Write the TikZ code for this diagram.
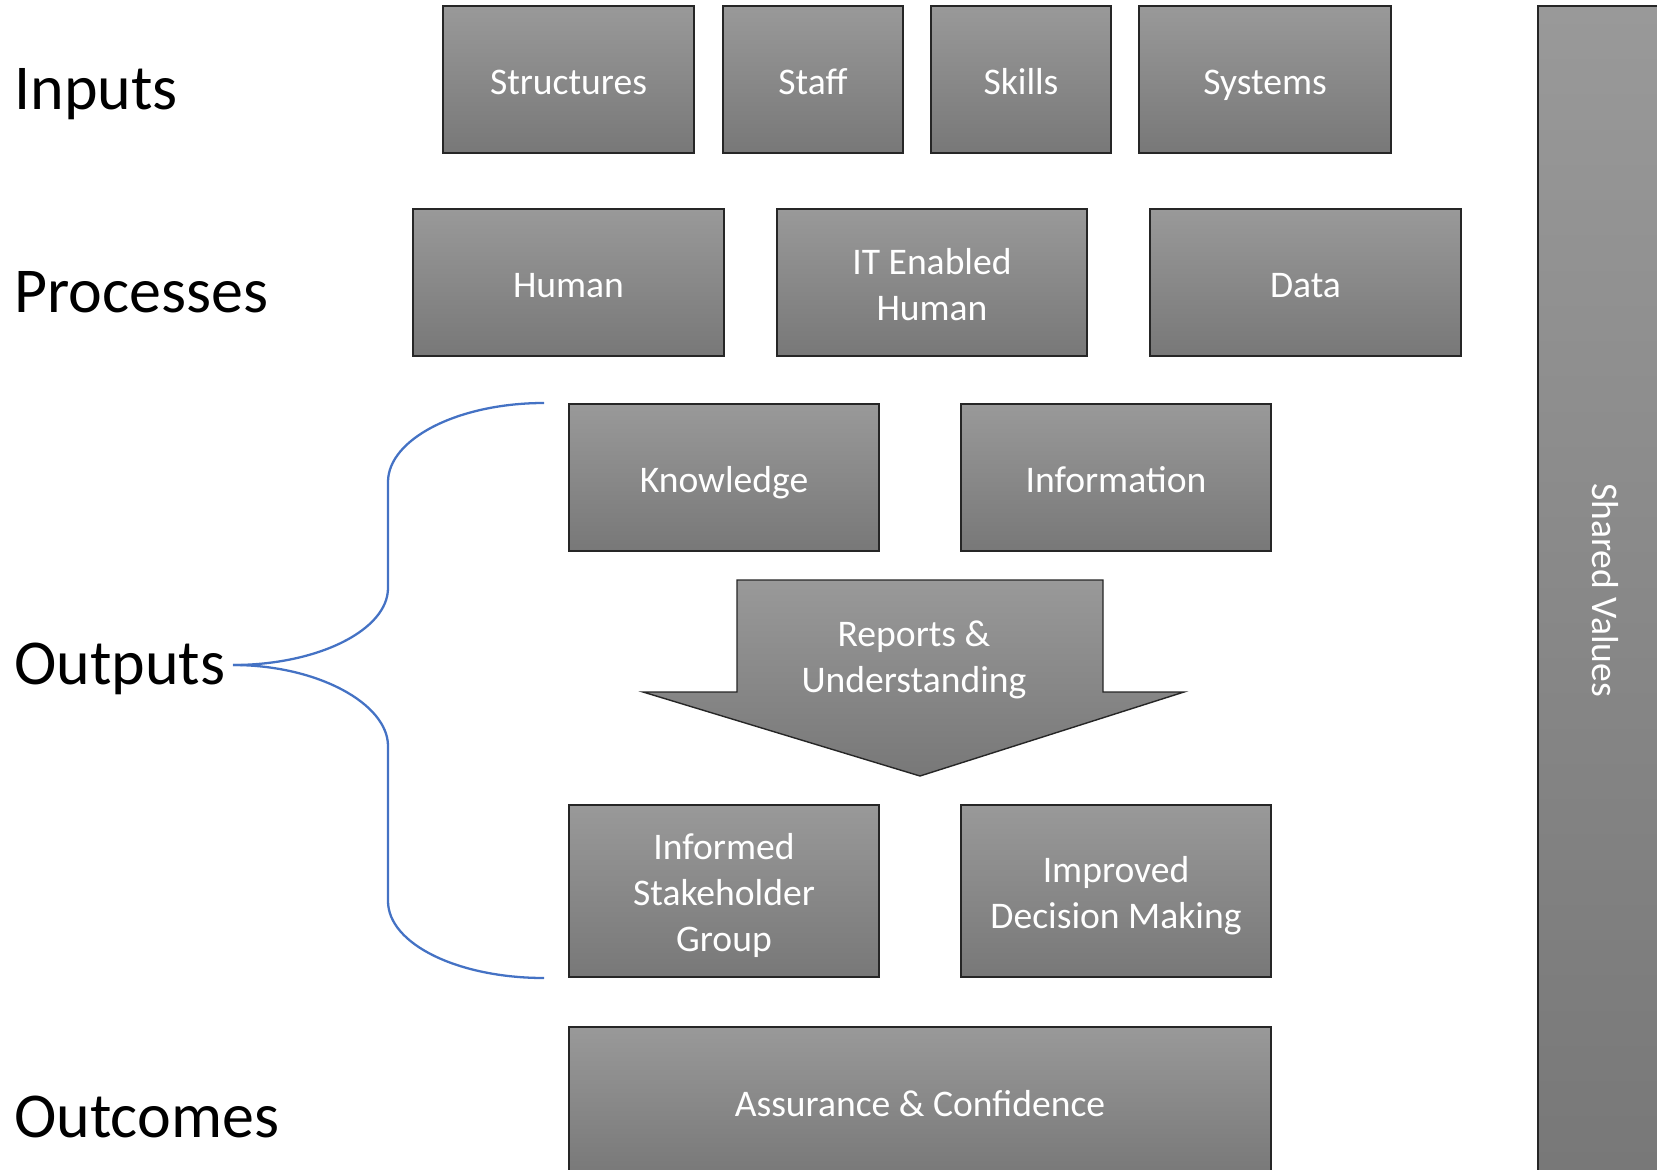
\documentclass[tikz,border=0pt]{standalone}
\usepackage{fontspec}
\setmainfont{Carlito}
\usetikzlibrary{positioning}

\definecolor{bracecol}{HTML}{4472C4}

% fixed line height so every label sits on the same baseline
\newcommand{\lnstrut}{\rule[-0.3em]{0pt}{1.38em}}

\begin{document}
\begin{tikzpicture}[x=0.02cm,y=-0.02cm]

    \tikzstyle{lbl} = [text=white, font=\fontsize{21.4}{26}\selectfont, align=center,
    execute at begin node=\lnstrut, execute at end node=\lnstrut]

    \tikzstyle{blk} = [lbl, draw=black!85, line width=0.8pt, rectangle, top color=black!40, bottom color=black!53,
    inner sep=0pt, minimum height=2.94cm]

    \tikzstyle{lvl} = [anchor=base west, inner sep=0pt, font=\fontsize{36.4}{44}\selectfont]

    \tikzstyle{brc} = [draw=bracecol, line width=1.3pt]

    \useasboundingbox (0,0) rectangle (1657,1170);

    % level names
    \draw
    (14,109) node [lvl] (inp) {Inputs}
    (14,312) node [lvl] (prc) {Processes}
    (14,684) node [lvl] (outp) {Outputs}
    (14,1137) node [lvl] (outc) {Outcomes}
    ;

    % boxes
    \draw
    (568.5,79.5) node [blk, minimum width=5.02cm] (str) {Structures}
    (813,79.5) node [blk, minimum width=3.6cm] (stf) {Staff}
    (1021,79.5) node [blk, minimum width=3.6cm] (skl) {Skills}
    (1265,79.5) node [blk, minimum width=5.04cm] (sys) {Systems}
    (568.5,282.5) node [blk, minimum width=6.22cm] (hum) {Human}
    (932,282.5) node [blk, minimum width=6.2cm] (ith) {\lnstrut IT Enabled\\Human}
    (1305.5,282.5) node [blk, minimum width=6.22cm] (dat) {Data}
    (724,477.5) node [blk, minimum width=6.2cm] (knw) {Knowledge}
    (1116,477.5) node [blk, minimum width=6.2cm] (inf) {Information}
    (724,891) node [blk, minimum width=6.2cm, minimum height=3.44cm] (isg) {\lnstrut Informed\\Stakeholder\\Group}
    (1116,891) node [blk, minimum width=6.2cm, minimum height=3.44cm] (idm) {\lnstrut Improved\\Decision Making}
    (920,1102) node [blk, minimum width=14.04cm, minimum height=3cm] (asc) {Assurance \& Confidence}
    (1607,590) node [blk, rotate=-90, minimum width=23.36cm, minimum height=2.76cm] (shv) {Shared Values}
    ;

    % down arrow
    \shade [draw=black!85, line width=0.8pt, top color=black!40, bottom color=black!53]
    (737,580) -- (1103,580) -- (1103,692) -- (1184,692) -- (920,776) -- (643,692) -- (737,692) -- cycle;
    \node [lbl] (rpt) at (914,655) {\lnstrut Reports \&\\Understanding};

    % brace
    \coordinate (tip) at (233,665);
    \coordinate (bt) at (544,403);
    \coordinate (bb) at (544,978);
    \draw [brc] (bt) .. controls (458,403) and (388,439) .. (388,482) -- (388,588)
    .. controls (388,630) and (318,665) .. (tip);
    \draw [brc] (tip) .. controls (318,665) and (388,704) .. (388,746) -- (388,901)
    .. controls (388,944) and (458,978) .. (bb);
  \end{tikzpicture}
\end{document}
